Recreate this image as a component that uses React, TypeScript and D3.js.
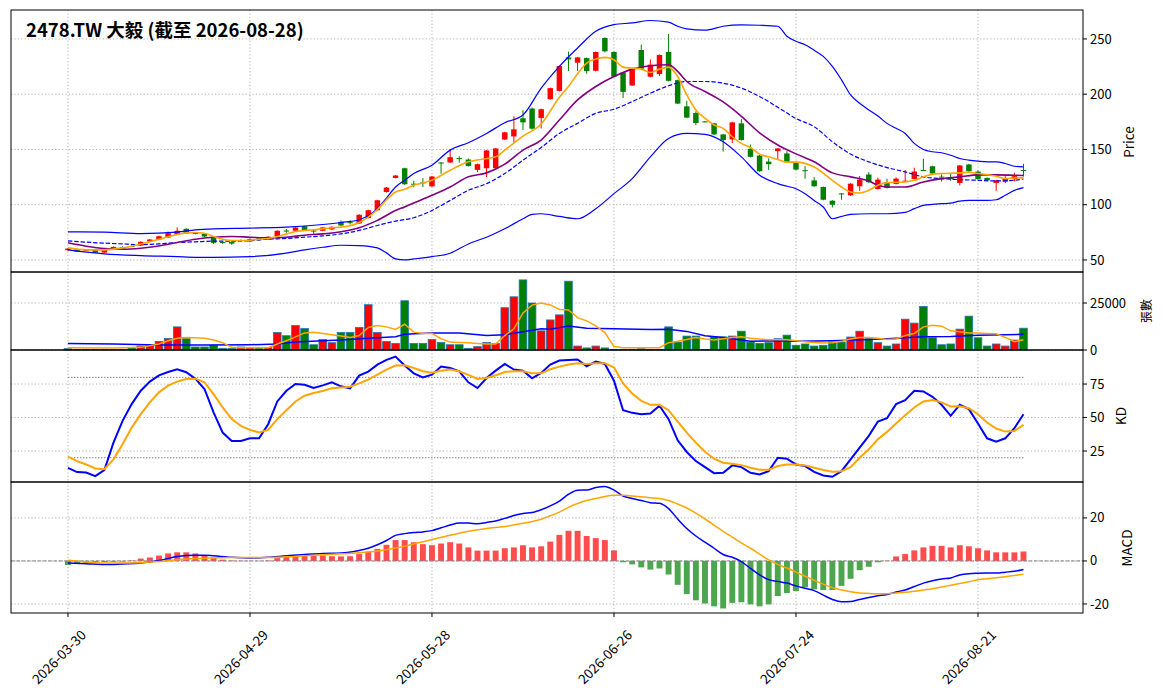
import React from 'react';
import * as d3 from 'd3';

// ---- data ----
const title = '2478.TW 大毅 (截至 2026-08-28)';
const xTickIdx = [0, 20, 40, 60, 80, 100];
const xTickLabels = ['2026-03-30', '2026-04-29', '2026-05-28', '2026-06-26', '2026-07-24', '2026-08-21'];

const openP = [
  58.8, 59.7, 58.6, 59.4, 56.7, 60, 61.8, 62.6, 63, 66.7,
  68.5, 70.3, 73.3, 78.2, 74.4, 74, 71, 66.2, 66.4, 67.6,
  66.7, 69.7, 68.5, 71.5, 76.6, 76.4, 80.6, 76.6, 76.4, 77.6,
  84.5, 84.2, 83, 88, 95, 111.5, 124.2, 133, 119, 120.2,
  116.6, 138.2, 138.2, 142.2, 140.9, 131.5, 133, 133, 159, 161.8,
  178.2, 187, 178.5, 195.5, 203, 233.3, 228.5, 232.7, 221.2, 250.9,
  238.2, 219.4, 207.9, 240, 215.8, 218.2, 238.2, 212.7, 189, 183,
  175.4, 173.6, 163.6, 159.1, 173.6, 150.6, 144.5, 139, 148.5, 146.4,
  138.5, 131.2, 122, 116, 103.6, 110.2, 108.5, 116.7, 127.3, 114.2,
  120.3, 118.8, 121.2, 123.3, 131.4, 134.8, 125.4, 124.2, 119.7, 136.4,
  130, 124.2, 119.7, 120.9, 123.3, 131.4,
];
const highP = [
  61, 60.2, 59.3, 59.8, 59.8, 62.3, 62.3, 63.2, 66.9, 69,
  72, 75.8, 79.5, 78.6, 75, 74.4, 71.4, 67, 66.8, 68.5,
  69.5, 70.2, 71.5, 76.9, 78, 79.9, 81, 78, 79.9, 80.5,
  85.8, 86, 91.4, 95.5, 104.5, 116, 126.9, 133.5, 121.8, 124,
  126, 138.6, 150.5, 143.8, 141.8, 137.2, 149.6, 151.4, 166, 180,
  185.5, 188, 187, 206, 226, 238.5, 233.8, 233.2, 238.7, 251.4,
  238.7, 220, 224.1, 245, 231.5, 236, 254.5, 213.2, 194, 184.5,
  175.8, 174.1, 164.1, 175, 177.5, 154.5, 145, 142, 151.4, 148.5,
  139, 135, 125, 116.5, 104.1, 110.6, 119.5, 126, 129.5, 124.5,
  123.5, 124.8, 131.5, 133.5, 141.5, 135.3, 127.5, 128, 136, 137,
  131, 124.7, 122.6, 126, 129, 137,
];
const lowP = [
  58.2, 57.2, 58.2, 56.2, 56.2, 59.6, 59.6, 61.8, 62.6, 66.3,
  68, 70, 73, 73.6, 73.2, 70.8, 64.6, 64.5, 63.6, 67.2,
  66.3, 67.5, 68.1, 71.1, 74.6, 76, 76.6, 73.5, 76, 77.2,
  80.8, 82, 82.6, 87.6, 94.6, 111, 123.8, 118, 115.8, 116,
  116, 128, 137.8, 138, 134.5, 129.5, 125, 132.5, 158.5, 156,
  167.5, 168, 169, 195, 202.5, 220.9, 220.9, 218.5, 220.7, 237.8,
  215.3, 196.5, 207.4, 222.5, 215.3, 216.5, 211.6, 191, 178.3, 172,
  174.6, 163.1, 148, 155.8, 158, 142.8, 129.8, 131.5, 140.5, 137.8,
  131.3, 123.5, 116.2, 104, 97.5, 104.5, 108, 112.5, 119.8, 113.7,
  114.7, 118.3, 120.8, 122.8, 130.5, 127.7, 121, 121.5, 117.5, 129.8,
  122.5, 121, 112.5, 119.5, 121, 125.5,
];
const closeP = [
  60.3, 57.6, 58.9, 56.7, 59.4, 61.8, 60, 62.2, 66.4, 68.5,
  71.5, 74.2, 76.4, 74, 74, 71.2, 65.5, 66, 64.8, 68,
  69, 67.9, 71, 76.4, 76.2, 79.4, 77, 76.2, 79.4, 80,
  81.2, 83.8, 90.9, 95, 104, 115.5, 126.4, 118.5, 118.6, 119.8,
  125.5, 137.4, 143, 141.8, 135, 136.7, 149.1, 150.9, 165.5, 168.2,
  174.5, 168.8, 186.4, 205.5, 225.5, 231.5, 233.3, 220.9, 238.2, 238.8,
  215.8, 202.1, 223.6, 223, 226.7, 235.5, 212.1, 191.5, 178.8, 173.9,
  175, 163.6, 158.5, 174.5, 158.5, 143.3, 130.3, 136.7, 150.9, 138.5,
  131.8, 130.6, 116.7, 104.5, 100, 109.8, 119, 122.7, 120.3, 122.7,
  115.2, 123.6, 121.7, 130, 131, 128.2, 125, 123.8, 135.5, 130.3,
  123.3, 122.1, 122.1, 123.3, 125.8, 130.8,
];

// [bar index, value]
const ma5 = [
  [0, 60.9], [2, 59.1], [4, 59.1], [6, 60.9], [8, 64.5], [10, 68.8], [12, 73], [13, 74.5], [14, 74.8], [15, 74.2],
  [16, 71.2], [17, 68.8], [18, 67.6], [19, 67.6], [20, 67.9], [21, 68.8], [22, 69.4], [23, 71.2], [24, 73.6], [25, 75.8],
  [26, 76.7], [27, 77.3], [28, 78.2], [29, 79.1], [30, 79.7], [31, 80.9], [32, 83.9], [33, 88.8], [34, 95.5], [35, 104.5],
  [36, 111.5], [37, 114], [38, 117.6], [40, 122.1], [42, 131.2], [44, 138.8], [46, 141.8], [47, 143.3], [48, 149.4], [50, 162.1],
  [52, 173], [54, 197.3], [55, 207], [56, 218.5], [57, 228.2], [58, 231.8], [59, 233.3], [60, 231.2], [61, 224.5], [62, 223.6],
  [63, 222.7], [64, 219.7], [65, 222.7], [66, 224.5], [67, 216], [68, 199.4], [69, 185.8], [70, 178.2], [71, 172.1], [72, 169.1],
  [73, 161.5], [74, 155.5], [75, 151.8], [76, 145.8], [77, 143.3], [78, 140.9], [79, 138.5], [80, 138.5], [82, 134.2], [84, 122.1],
  [85, 116], [86, 111.5], [87, 110.6], [88, 113], [89, 117.6], [90, 120], [92, 120.6], [93, 122.1], [94, 125.2], [95, 127.6],
  [96, 128.2], [98, 128.8], [99, 129.4], [100, 128.2], [102, 125.8], [103, 123.6], [104, 124.2], [105, 124.5],
];
const ma10 = [
  [0, 65.5], [2, 62.4], [4, 60.3], [6, 59.7], [8, 60.6], [10, 62.7], [12, 65.8], [14, 68.8], [16, 70.6], [18, 71.2],
  [20, 70.6], [22, 70], [24, 70.6], [26, 72.4], [28, 73.6], [30, 75.5], [32, 79.1], [34, 85.8], [36, 94.8], [37, 98],
  [38, 101.5], [40, 108.5], [42, 116], [44, 125.2], [46, 128.8], [48, 136.7], [50, 149.4], [52, 158.5], [54, 176.7], [56, 194.8],
  [58, 207], [60, 216], [62, 222.7], [64, 225.8], [66, 226.7], [67, 220.6], [68, 211.5], [70, 202.4], [72, 193], [74, 180],
  [76, 165], [78, 154], [80, 146], [82, 138.8], [84, 128.8], [86, 125.2], [88, 121.5], [89, 117.6], [90, 116], [92, 116],
  [94, 120.6], [96, 123.6], [98, 125.2], [100, 127], [102, 127], [104, 126.7], [105, 126.4],
];
const ma20 = [
  [0, 67.3], [2, 66.1], [4, 65.2], [6, 64.5], [8, 63.9], [10, 64.5], [12, 65.8], [14, 66.4], [16, 67], [18, 67],
  [20, 67.6], [22, 68.8], [24, 69.4], [26, 70.6], [28, 71.8], [30, 73.6], [32, 76.7], [34, 81.2], [36, 85.2], [38, 88.2],
  [40, 94.8], [42, 103.9], [44, 113], [46, 119.1], [48, 128.2], [50, 140.3], [52, 151.8], [54, 164.5], [56, 173.6], [58, 182.7],
  [60, 186.4], [62, 193.3], [64, 200.9], [66, 207.6], [68, 211.5], [70, 211.5], [72, 210], [74, 205.5], [76, 197.9], [78, 188.2],
  [80, 178], [82, 170.6], [84, 157], [86, 145.8], [88, 138.8], [90, 133.6], [92, 129.7], [94, 125.2], [96, 123.6], [98, 122.7],
  [100, 122.1], [102, 121.5], [104, 122.1], [105, 123.3],
];
const bbUpper = [
  [0, 75.5], [4, 75.2], [8, 73.9], [12, 75.2], [14, 77.3], [16, 78.2], [20, 78.8], [24, 79.7], [28, 82.1], [30, 83.9],
  [32, 86.4], [34, 96.4], [35, 106], [36, 116], [37, 122.1], [38, 128.2], [40, 135.8], [42, 149.4], [44, 156.1], [46, 164.5],
  [48, 174.2], [50, 181.2], [52, 205.5], [54, 225.2], [56, 241.8], [58, 257], [60, 263], [62, 264.5], [64, 266.7], [66, 265.2],
  [67, 261.5], [68, 259.1], [70, 257.9], [72, 261.5], [74, 262.7], [76, 262.4], [78, 261.5], [79, 252.4], [80, 247.9], [81, 244.8],
  [82, 239.7], [83, 234.2], [84, 225.2], [85, 213], [86, 199.4], [87, 191.8], [88, 185.8], [89, 180.3], [90, 173.6], [91, 169.1],
  [92, 164.5], [93, 155.5], [94, 150], [95, 147.9], [96, 147], [97, 144.8], [98, 141.8], [99, 140.3], [100, 139.4], [101, 138.8],
  [102, 138.8], [103, 137.3], [104, 134.8], [105, 134.2],
];
const bbLower = [
  [0, 59.1], [4, 55.5], [8, 53.9], [12, 53], [14, 52.4], [16, 52.4], [20, 53], [24, 56.1], [26, 59.1], [28, 61.5],
  [30, 63.3], [32, 63], [34, 60.9], [35, 56.4], [36, 50.9], [37, 50], [38, 50.9], [40, 53], [42, 56.1], [44, 64.5],
  [46, 70.6], [48, 78.2], [50, 87.3], [51, 91.2], [52, 91.8], [54, 89.4], [56, 87.3], [58, 96.4], [60, 110], [62, 123.6],
  [64, 143.3], [66, 160], [68, 164.5], [70, 163.6], [72, 157], [74, 143.3], [76, 126.7], [78, 119.1], [79, 116.7], [80, 114.5],
  [81, 110], [82, 103.9], [83, 97.9], [84, 87.3], [85, 89.4], [86, 91.2], [88, 91.8], [90, 91.8], [92, 93], [93, 96.4],
  [94, 99.4], [95, 100.3], [96, 100.9], [97, 101.5], [98, 103.3], [99, 103.9], [100, 103.9], [101, 103.9], [102, 104.5], [103, 108.5],
  [104, 113], [105, 115.5],
];

const volume = [
  700, 350, 350, 350, 350, 350, 350, 1400, 2100, 2800,
  4600, 6200, 12300, 6200, 1600, 1600, 2500, 900, 900, 1600,
  1400, 1400, 1400, 9300, 7600, 13000, 11400, 2800, 5600, 3900,
  9300, 9300, 12000, 24100, 9300, 4600, 3500, 26200, 3500, 3500,
  5600, 4000, 2800, 2800, 900, 1800, 4000, 3500, 22500, 28300,
  37300, 25000, 10200, 16000, 18700, 36600, 2100, 1100, 2100, 1100,
  350, 350, 350, 700, 350, 350, 12300, 4200, 7400, 7400,
  200, 7000, 7000, 7400, 10000, 4200, 3500, 3900, 6000, 7900,
  2500, 3200, 2100, 2500, 4200, 4200, 6900, 10000, 6000, 3900,
  2100, 3200, 16400, 14300, 23200, 6500, 2800, 3200, 11100, 18000,
  6500, 2100, 3200, 2100, 5300, 11600,
];
const volMa5 = [
  [0, 1200], [5, 1000], [8, 1400], [10, 3200], [11, 4900], [12, 6300], [13, 6700], [14, 6500], [15, 6200], [16, 5300],
  [17, 3900], [18, 1400], [19, 1200], [22, 1200], [23, 3200], [24, 4900], [25, 7000], [26, 9100], [27, 9500], [28, 8800],
  [29, 8100], [30, 7400], [31, 6700], [32, 7700], [33, 12000], [34, 13000], [35, 12300], [36, 10900], [37, 13700], [38, 9500],
  [39, 8800], [40, 8800], [41, 6000], [42, 4200], [43, 4000], [44, 3900], [45, 3500], [46, 3200], [47, 3200], [48, 7700],
  [49, 11300], [50, 19700], [51, 23900], [52, 25000], [53, 24000], [54, 21600], [55, 21300], [56, 17200], [57, 15500], [58, 12800],
  [59, 9300], [60, 1800], [61, 1200], [65, 1200], [66, 3900], [67, 4600], [68, 5600], [69, 6700], [70, 5800], [71, 5300],
  [72, 6000], [73, 6700], [74, 7000], [75, 6300], [76, 5800], [77, 5500], [79, 5500], [80, 4900], [81, 4400], [82, 4000],
  [83, 3700], [84, 3900], [85, 4600], [86, 5800], [87, 6700], [88, 6700], [89, 6200], [90, 5600], [91, 5800], [92, 7700],
  [93, 8800], [94, 12300], [95, 13200], [96, 12700], [97, 10200], [98, 9700], [99, 9100], [100, 9000], [101, 8800], [102, 8600],
  [103, 6700], [104, 4400], [105, 5500],
];
const volMa20 = [
  [0, 3500], [5, 3200], [10, 2600], [15, 2600], [20, 2800], [23, 3200], [25, 4200], [28, 4900], [30, 5300], [33, 6300],
  [36, 7000], [37, 8400], [40, 9000], [43, 9100], [46, 7700], [48, 8100], [50, 9700], [52, 11300], [53, 11000], [55, 12800],
  [57, 11600], [60, 11300], [64, 10900], [66, 11100], [68, 9900], [70, 7600], [72, 6700], [75, 4600], [78, 4900], [80, 4600],
  [84, 4900], [88, 5600], [90, 6000], [94, 7000], [97, 7200], [100, 7900], [103, 8100], [105, 8400],
];

const kLine = [
  12.5, 9.3, 9, 6.3, 10.8, 31.3, 47.5, 60, 70, 76.8,
  81.5, 84, 86, 83.8, 79, 71.3, 53.8, 38.8, 32.5, 32.5,
  34.5, 34.5, 45, 62, 70, 75, 74.5, 72, 74, 76.3,
  73.3, 71.8, 81.3, 84.3, 89.5, 93, 95.5, 88.8, 83, 80,
  82, 88, 87, 84.5, 76.3, 72, 79.5, 85, 90, 85.8,
  85, 79.3, 83.3, 89.5, 92.5, 93, 93.3, 88.3, 91.8, 90,
  77.5, 55.5, 53.5, 52.5, 53, 58.8, 48.8, 33, 24.3, 17.5,
  13, 8.5, 8.8, 14.3, 13, 8.8, 7.5, 10, 20, 19.3,
  15, 13.8, 9.5, 6.8, 5.8, 10, 18.8, 27.5, 36.3, 47,
  49.5, 60, 63, 70, 69.5, 65.5, 59.5, 51.3, 59.5, 56.3,
  45.5, 34.5, 32, 34.5, 42, 52.5,
];
const dLine = [
  20.8, 17.5, 15, 12, 11.5, 18.8, 30, 42.5, 52.5, 61.3,
  68.8, 73.8, 76.8, 78.8, 79, 76.3, 67.5, 57.5, 48.8, 43.8,
  40.8, 38.8, 40.8, 48.8, 55.5, 62, 66.3, 68.3, 69.8, 71.8,
  72.5, 73, 75.5, 78.3, 82, 85.8, 88.8, 89, 87, 84.5,
  83.5, 85, 85.8, 84.5, 81.8, 78.8, 79.5, 81.5, 84, 84.5,
  84.5, 83, 83, 86, 88, 89.5, 90.5, 90, 90.5, 90.5,
  87.5, 75.5, 68, 62.5, 59.5, 59.5, 55.5, 47, 38.8, 31.3,
  24.5, 19.3, 16.3, 15.5, 14.5, 12.5, 11, 11, 13.8, 15,
  15, 14.3, 12.5, 10.8, 9.5, 10, 13, 20, 26.3, 33.8,
  39.3, 45.5, 51.8, 57.5, 62, 63, 61.3, 58.3, 58.5, 57,
  52.5, 46.3, 41.8, 39.5, 40, 44.5,
];

const dif = [
  [0, -1], [2, -1.3], [4, -1.7], [6, -1.4], [8, -1], [10, 0.2], [12, 2.1], [14, 2.7], [15, 2.7], [16, 2.4],
  [18, 1.7], [20, 1.4], [22, 1.7], [24, 2.4], [26, 3], [28, 3.5], [30, 3.7], [32, 4.9], [33, 5.9], [34, 7.5],
  [35, 9.5], [36, 11.9], [37, 12.7], [38, 13.2], [39, 13.5], [40, 14.1], [41, 15.4], [42, 16.7], [43, 17.6], [44, 17.6],
  [45, 17.3], [46, 17.9], [47, 18.6], [48, 19.8], [49, 21.1], [50, 22.1], [51, 22.5], [52, 23.8], [53, 25.6], [54, 27.8],
  [55, 31], [56, 32.9], [57, 33], [58, 34.1], [59, 34.6], [60, 32.9], [61, 30.2], [62, 29], [63, 28.1], [64, 27.1],
  [65, 26.8], [66, 24.3], [67, 19.5], [68, 15.1], [69, 11.6], [70, 8.7], [71, 5.9], [72, 3], [73, 1.7], [74, -0.3],
  [75, -3.5], [76, -6.5], [77, -8.7], [78, -9.5], [79, -10.3], [80, -11.6], [81, -12.7], [82, -13.8], [83, -15.9], [84, -17.9],
  [85, -19], [86, -18.9], [87, -17.9], [88, -17], [89, -16.2], [90, -15.6], [91, -14.4], [92, -13.5], [93, -11.9], [94, -10.3],
  [95, -9.2], [96, -8.4], [97, -7.9], [98, -6.5], [99, -5.9], [100, -5.7], [101, -5.6], [102, -5.6], [103, -5.2], [104, -4.8],
  [105, -4],
];
const dea = [
  [0, 0.3], [2, -0.5], [4, -1], [6, -1], [8, -0.8], [10, -0.3], [12, 0.5], [14, 1.1], [16, 1.4], [18, 1.6],
  [20, 1.6], [22, 1.6], [24, 1.9], [26, 2.4], [28, 2.9], [30, 3.3], [32, 3.8], [34, 4.6], [36, 6], [38, 7.9],
  [40, 10], [42, 11.9], [44, 13.8], [46, 15.1], [48, 16], [50, 17.5], [52, 19.4], [53, 21], [54, 22.7], [55, 24.9],
  [56, 26.7], [57, 28.1], [58, 29], [59, 30], [60, 30.5], [61, 30.5], [62, 30.2], [63, 29.8], [64, 29.4], [65, 29],
  [66, 28.1], [67, 26.5], [68, 24.6], [69, 22.2], [70, 19.5], [71, 16.7], [72, 13.8], [73, 11.1], [74, 8.4], [75, 5.9],
  [76, 3.2], [77, 0.5], [78, -1.6], [79, -3.3], [80, -5.2], [81, -7.1], [82, -9], [83, -10.8], [84, -12.4], [85, -13.5],
  [86, -14.3], [87, -14.9], [88, -15.1], [89, -15.2], [90, -15.2], [91, -14.9], [92, -14.6], [93, -14.1], [94, -13.5], [95, -12.9],
  [96, -12.1], [97, -11.3], [98, -10.5], [99, -9.7], [100, -8.7], [101, -8.3], [102, -7.8], [103, -7.3], [104, -6.8], [105, -6.2],
];
const macdHist = [
  -1.9, -1.3, -1, -0.6, -0.5, -0.4, -0.3, 0.2, 1.1, 1.6,
  2.5, 3.5, 4, 4, 3.5, 2.4, 1.4, 0.6, 0.2, 0.1,
  0.05, 0.05, 0.2, 1.3, 2.1, 2.4, 2.5, 2.5, 2.5, 2.2,
  2.1, 2.2, 3.2, 4.3, 5.6, 7.5, 9.7, 9.7, 8.7, 7.8,
  7.3, 8.1, 8.7, 8.1, 6.3, 4.8, 4.8, 4.8, 5.9, 6.3,
  7.3, 6.3, 6.8, 9, 12.1, 14, 14, 11.6, 10.6, 9.7,
  4.9, -0.6, -1.6, -3, -4, -3.5, -6.3, -11.1, -15.4, -18.3,
  -19.8, -21.1, -22.1, -19.5, -19.2, -20.2, -21.1, -20.2, -16.3, -14.9,
  -14, -12.2, -13.2, -13.5, -13.5, -11.6, -8.3, -4.3, -2.7, -0.6,
  0.1, 2.1, 3.2, 4.9, 6.3, 7, 7, 6.3, 7.3, 6.8,
  5.9, 4.9, 4, 4, 4, 4.4,
];

const priceTicks = [50, 100, 150, 200, 250];
const volTicks = [0, 25000];
const kdTicks = [25, 50, 75];
const kdBands = [80, 20];
const macdTicks = [-20, 0, 20];

// ---- layout ----
const W = 1164;
const H = 698;
const LEFT = 11;
const RIGHT = 1083;
const P = { price: [10, 272], vol: [272, 350], kd: [350, 482], macd: [482, 613] };
const FONT = '"Noto Sans CJK TC", "Noto Sans", sans-serif';
const GRID = '#b0b0b0';

const x = d3.scaleLinear().domain([-6.26, 111.54]).range([LEFT, RIGHT]);
const step = x(1) - x(0);
const yPrice = d3.scaleLinear().domain([39.1, 276.2]).range([P.price[1], P.price[0]]);
const yVol = d3.scaleLinear().domain([0, 41500]).range([P.vol[1], P.vol[0]]);
const yKd = d3.scaleLinear().domain([1.9, 100.4]).range([P.kd[1], P.kd[0]]);
const yMacd = d3.scaleLinear().domain([-24.2, 36.7]).range([P.macd[1], P.macd[0]]);

const path = (pts, ys, curve = d3.curveMonotoneX) =>
  d3.line().x((d) => x(d[0])).y((d) => ys(d[1])).curve(curve)(pts);
const indexed = (arr) => arr.map((v, i) => [i, v]);

const up = closeP.map((c, i) => c >= openP[i]);

function Panel({ range, ys, ticks }) {
  const [top, bottom] = range;
  return (
    <g>
      {xTickIdx.map((i) => (
        <line key={'v' + i} x1={x(i)} x2={x(i)} y1={top} y2={bottom} stroke={GRID} strokeWidth={1} strokeDasharray="1.2 2.2" />
      ))}
      {ticks.map((t) => (
        <line key={'h' + t} x1={LEFT} x2={RIGHT} y1={ys(t)} y2={ys(t)} stroke={GRID} strokeWidth={1} strokeDasharray="1.2 2.2" />
      ))}
    </g>
  );
}

function Axis({ range, ys, ticks, fmt = (t) => String(t) }) {
  const [top, bottom] = range;
  return (
    <g>
      <rect x={LEFT} y={top} width={RIGHT - LEFT} height={bottom - top} fill="none" stroke="#000" strokeWidth={1} />
      {ticks.map((t) => (
        <g key={t}>
          <line x1={RIGHT} x2={RIGHT + 4} y1={ys(t)} y2={ys(t)} stroke="#000" />
          <text x={RIGHT + 7} y={ys(t)} dy="0.35em" fontSize={13} fill="#000">
            {fmt(t)}
          </text>
        </g>
      ))}
    </g>
  );
}

export default function App() {
  const bodyW = step * 0.6;
  const volW = step * 0.84;
  const histW = step * 0.65;
  return (
    <svg width={W} height={H} style={{ position: 'absolute', left: 0, top: 0, background: '#fff' }} fontFamily={FONT}>
      <rect width={W} height={H} fill="#fff" />

      {/* grids */}
      <Panel range={P.price} ys={yPrice} ticks={priceTicks} />
      <Panel range={P.vol} ys={yVol} ticks={volTicks} />
      <Panel range={P.kd} ys={yKd} ticks={kdTicks} />
      <Panel range={P.macd} ys={yMacd} ticks={macdTicks} />

      {/* price panel */}
      <g>
        {closeP.map((c, i) => {
          const col = up[i] ? '#ff0000' : '#008000';
          const yTop = yPrice(Math.max(openP[i], c));
          const yBot = yPrice(Math.min(openP[i], c));
          return (
            <g key={i}>
              <line x1={x(i)} x2={x(i)} y1={yPrice(highP[i])} y2={yPrice(lowP[i])} stroke={col} strokeWidth={1} />
              <rect x={x(i) - bodyW / 2} y={yTop} width={bodyW} height={Math.max(1, yBot - yTop)} fill={col} />
            </g>
          );
        })}
        <path d={path(bbUpper, yPrice)} fill="none" stroke="#0000ff" strokeWidth={1.2} />
        <path d={path(bbLower, yPrice)} fill="none" stroke="#0000ff" strokeWidth={1.2} />
        <path d={path(ma20, yPrice)} fill="none" stroke="#0000ff" strokeWidth={1.2} strokeDasharray="4.4 1.9" />
        <path d={path(ma10, yPrice)} fill="none" stroke="#800080" strokeWidth={1.6} />
        <path d={path(ma5, yPrice)} fill="none" stroke="#ffa500" strokeWidth={1.6} />
        <text x={26} y={37} fontSize={18.5} fontWeight="bold" fill="#000">
          {title}
        </text>
      </g>

      {/* volume panel */}
      <g>
        {volume.map((v, i) => (
          <rect
            key={i}
            x={x(i) - volW / 2}
            y={yVol(v)}
            width={volW}
            height={yVol(0) - yVol(v)}
            fill={up[i] ? '#ff0000' : '#008000'}
            stroke="#1f77b4"
            strokeWidth={0.8}
          />
        ))}
        <path d={path(volMa20, yVol, d3.curveLinear)} fill="none" stroke="#0000ff" strokeWidth={1.5} />
        <path d={path(volMa5, yVol, d3.curveLinear)} fill="none" stroke="#ffa500" strokeWidth={1.5} />
      </g>

      {/* KD panel */}
      <g>
        {kdBands.map((b) => (
          <line key={b} x1={x(0)} x2={x(closeP.length - 1)} y1={yKd(b)} y2={yKd(b)} stroke="#808080" strokeWidth={1} strokeDasharray="1.5 1.5" />
        ))}
        <path d={path(indexed(kLine), yKd, d3.curveLinear)} fill="none" stroke="#0000ff" strokeWidth={2} />
        <path d={path(indexed(dLine), yKd, d3.curveLinear)} fill="none" stroke="#ffa500" strokeWidth={2} />
      </g>

      {/* MACD panel */}
      <g>
        {macdHist.map((v, i) => (
          <rect
            key={i}
            x={x(i) - histW / 2}
            y={Math.min(yMacd(v), yMacd(0))}
            width={histW}
            height={Math.abs(yMacd(v) - yMacd(0))}
            fill={v >= 0 ? '#ff4d4d' : '#4da64d'}
          />
        ))}
        <line x1={LEFT} x2={RIGHT} y1={yMacd(0)} y2={yMacd(0)} stroke="#808080" strokeWidth={1} strokeDasharray="3.7 1.6" />
        <path d={path(dif, yMacd)} fill="none" stroke="#0000ff" strokeWidth={1.5} />
        <path d={path(dea, yMacd)} fill="none" stroke="#ffa500" strokeWidth={1.5} />
      </g>

      {/* frames and right axes */}
      <Axis range={P.price} ys={yPrice} ticks={priceTicks} />
      <Axis range={P.vol} ys={yVol} ticks={volTicks} />
      <Axis range={P.kd} ys={yKd} ticks={kdTicks} />
      <Axis range={P.macd} ys={yMacd} ticks={macdTicks} />

      {/* axis titles */}
      <text transform="translate(1134,142) rotate(-90)" textAnchor="middle" fontSize={13.5}>Price</text>
      <text transform="translate(1151,311) rotate(-90)" textAnchor="middle" fontSize={12}>張數</text>
      <text transform="translate(1126,416) rotate(-90)" textAnchor="middle" fontSize={13.5}>KD</text>
      <text transform="translate(1132,548) rotate(-90)" textAnchor="middle" fontSize={13.5}>MACD</text>

      {/* x axis */}
      {xTickIdx.map((i, k) => (
        <g key={i}>
          <line x1={x(i)} x2={x(i)} y1={P.macd[1]} y2={P.macd[1] + 4} stroke="#000" />
          <text
            transform={`translate(${x(i) + 10},${P.macd[1] + 14}) rotate(-45)`}
            textAnchor="end"
            dominantBaseline="hanging"
            fontSize={13.5}
          >
            {xTickLabels[k]}
          </text>
        </g>
      ))}
    </svg>
  );
}
